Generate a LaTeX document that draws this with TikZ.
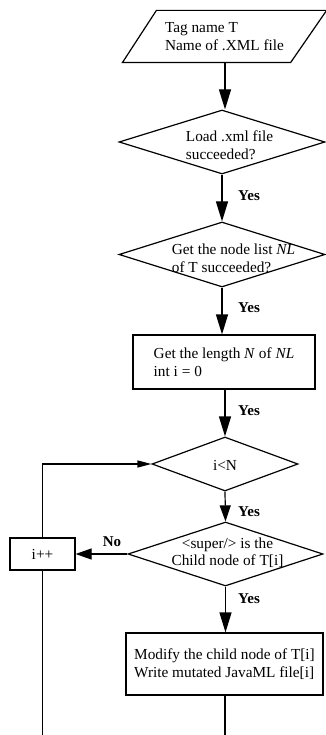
\documentclass[tikz,border=0pt]{standalone}
\usepackage{fontspec}
\setmainfont{Liberation Serif}
\usetikzlibrary{shapes.geometric,arrows.meta}
\begin{document}
\begin{tikzpicture}[x=1pt,y=-1pt,
  line width=1.2pt,
  every node/.style={font=\fontsize{15.3}{17.5}\selectfont, inner sep=0pt},
  dia/.style={draw, diamond},
  box/.style={draw, rectangle, align=left},
  txt/.style={align=left},
  lbl/.style={font=\fontsize{15}{17}\selectfont\bfseries},
  big/.style={-{Triangle[length=20pt,width=12pt]}},
  mid/.style={-{Triangle[length=16pt,width=11pt]}},
  small/.style={-{Triangle[length=14pt,width=7pt]}}]
\useasboundingbox (0,0) rectangle (326,735);
\clip (0,0) rectangle (326,735);

% input: a parallelogram drawn around the extent of its text node
\node[minimum width=203, minimum height=51, align=left]
  (io) at (224.5,36.5) {Tag name T\\Name of .XML file};
\draw ([xshift=34pt]io.north west) -- (io.north east)
  -- ([xshift=-36pt]io.south east) -- (io.south west) -- cycle;

% decisions and steps
\node[dia, minimum width=206, minimum height=64] (d1) at (222,142) {};
\node[txt] (t1) at (229.5,145) {Load .xml file\\succeeded?};

\node[dia, minimum width=206, minimum height=65] (d2) at (222,254.5) {};
\node[txt] (t2) at (233.5,258.5) {Get the node list \textit{NL}\\of T succeeded?};

\node[box, minimum width=182, minimum height=54] (r3) at (224,362)
  {Get the length \textit{N} of \textit{NL}\\int i = 0};

\node[dia, minimum width=146, minimum height=54] (d3) at (225,464) {};
\node (t3) at (225,465) {i<N};

\node[dia, minimum width=195, minimum height=64] (d4) at (225.5,554) {};
\node[align=center] (t4) at (227.5,552.5) {<super/> is the\\Child node of T[i]};

\node[box, minimum width=197, minimum height=62] (r5) at (224.5,664)
  {Modify the child node of T[i]\\Write mutated JavaML file[i]};

\node[draw, minimum width=65, minimum height=32] (inc) at (42.5,554) {i++};

\coordinate (bl) at (42,735);
\coordinate (br) at (225,735);
\coordinate (ioout) at (io.south -| br);

% connectors
\draw[big] (ioout) -- (ioout |- d1.north);
\draw[big] (d1.south) -- (d2.north);
\draw[big] (d2.south) -- (d2.south |- r3.north);
\draw[big] (r3.south -| d3.north) -- (d3.north);
\draw[mid] (d3.south) -- (d4.north);
\draw[big] (d4.south) -- (d4.south |- r5.north);
\draw (r5.south -| br) -- (br);
\draw[mid] (d4.west) -- (inc.east);
\draw[small] (inc.north) -- (inc.north |- d3.west) -- (d3.west);
\draw (inc.south) -- (inc.south |- bl);

% branch labels
\node[lbl] (y1) at (249,196) {Yes};
\node[lbl] (y2) at (249,308) {Yes};
\node[lbl] (y3) at (249,411) {Yes};
\node[lbl] (y4) at (249,512) {Yes};
\node[lbl] (y5) at (249,599) {Yes};
\node[lbl] (n1) at (112,542) {No};
\end{tikzpicture}
\end{document}
